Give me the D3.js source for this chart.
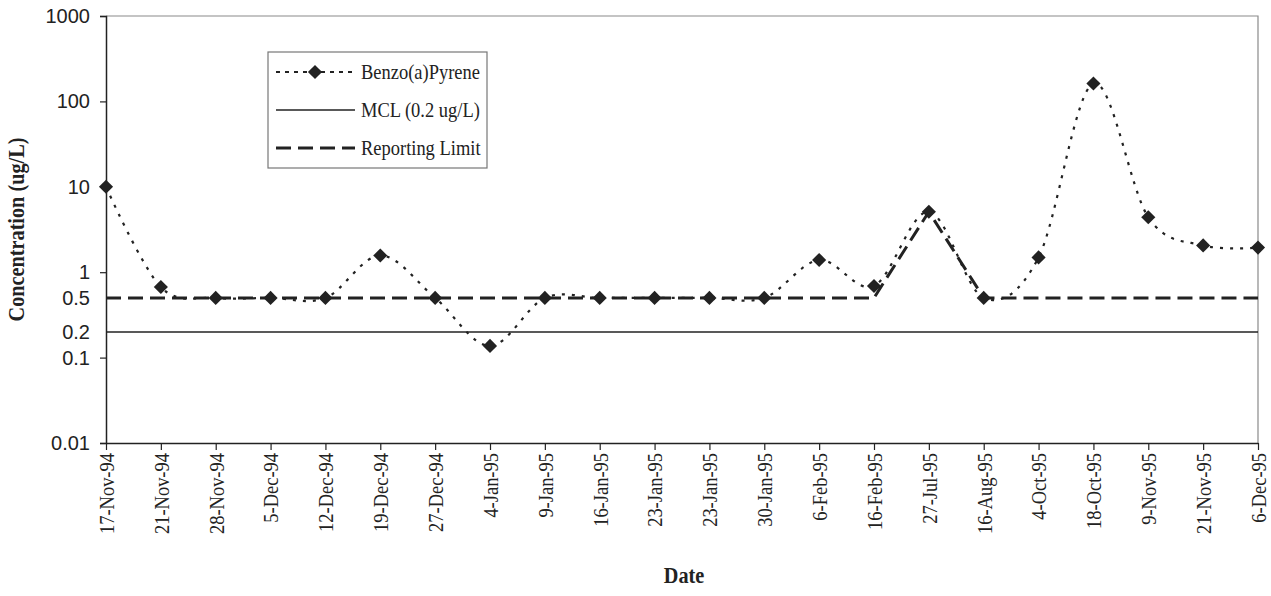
<!DOCTYPE html>
<html>
<head>
<meta charset="utf-8">
<script src="https://cdn.jsdelivr.net/npm/d3@7"></script>
<style>
  body { margin: 0; background: #fff; }
  svg { display: block; }
</style>
</head>
<body>
<div id="figure"></div>
<script>
// sample dates (category axis, 23-Jan-95 appears twice in the source)
var dates = ["17-Nov-94", "21-Nov-94", "28-Nov-94", "5-Dec-94", "12-Dec-94", "19-Dec-94",
  "27-Dec-94", "4-Jan-95", "9-Jan-95", "16-Jan-95", "23-Jan-95", "23-Jan-95", "30-Jan-95",
  "6-Feb-95", "16-Feb-95", "27-Jul-95", "16-Aug-95", "4-Oct-95", "18-Oct-95", "9-Nov-95",
  "21-Nov-95", "6-Dec-95"];

var benzo = [10, 0.67, 0.5, 0.5, 0.5, 1.57, 0.5, 0.137, 0.5, 0.5, 0.5, 0.5, 0.5,
  1.39, 0.69, 5.1, 0.5, 1.49, 162, 4.4, 2.06, 1.94];

var reportingLimit = [0.5, 0.5, 0.5, 0.5, 0.5, 0.5, 0.5, 0.5, 0.5, 0.5, 0.5, 0.5, 0.5,
  0.5, 0.5, 5.1, 0.5, 0.5, 0.5, 0.5, 0.5, 0.5];

var mcl = [0.2, 0.2, 0.2, 0.2, 0.2, 0.2, 0.2, 0.2, 0.2, 0.2, 0.2, 0.2, 0.2,
  0.2, 0.2, 0.2, 0.2, 0.2, 0.2, 0.2, 0.2, 0.2];

var yTicks = [1000, 100, 10, 1, 0.5, 0.2, 0.1, 0.01];

var width = 1271;
var height = 596;
var margin = { top: 16, bottom: 153, left: 106, right: 13 };

var serif = "'Liberation Serif', 'Times New Roman', serif";
var sans = "'Liberation Sans', Arial, sans-serif";
var ink = "#222";
// the source font is narrow and tall, so squeeze serif text along its run
var squeeze = 0.88;

var svg = d3.select("#figure")
  .append("svg")
  .attr("width", width)
  .attr("height", height)

var x = d3.scalePoint()
  .domain(d3.range(dates.length))
  .range([margin.left, width - margin.right]);

var y = d3.scaleLog()
  .domain([0.01, 1000])
  .range([height - margin.bottom, margin.top]);

// plot frame (top and right in grey)
svg.append("path")
  .attr("d", "M" + margin.left + "," + margin.top + "H" + (width - margin.right) + "V" + (height - margin.bottom))
  .attr("fill", "none")
  .attr("stroke", "#8a8a8a")
  .attr("stroke-width", 1.2)

// y axis
var yAxis = svg.append("g")
  .attr("transform", "translate(" + margin.left + ",0)")
  .call(d3.axisLeft(y).tickValues(yTicks).tickSize(6).tickPadding(10)
    .tickFormat(function (d) { return String(d) }))
yAxis.select(".domain").attr("stroke", ink).attr("stroke-width", 1.5)
yAxis.selectAll(".tick line")
  .attr("stroke", ink)
  .attr("stroke-width", 1.2)
  .attr("display", function (d) { return (d == 0.5 || d == 0.2) ? "none" : null })
yAxis.selectAll(".tick text")
  .attr("font-family", sans)
  .attr("font-size", "20px")
  .attr("fill", ink)

// x axis
var xAxis = svg.append("g")
  .attr("transform", "translate(0," + (height - margin.bottom) + ")")
  .call(d3.axisBottom(x).tickSize(7).tickSizeOuter(0)
    .tickFormat(function (i) { return dates[i] }))
xAxis.select(".domain").attr("stroke", ink).attr("stroke-width", 1.5)
xAxis.selectAll(".tick line").attr("stroke", ink).attr("stroke-width", 1.2)
xAxis.selectAll(".tick text")
  .attr("font-family", serif)
  .attr("font-size", "21px")
  .attr("fill", ink)
  .attr("text-anchor", "end")
  .attr("transform", "rotate(-90) scale(" + squeeze + ",1)")
  .attr("x", -10 / squeeze)
  .attr("y", 0)
  .attr("dy", "0.35em")

// axis titles
svg.append("text")
  .attr("transform", "translate(684,583) scale(" + squeeze + ",1)")
  .attr("text-anchor", "middle")
  .attr("font-family", serif)
  .attr("font-weight", "bold")
  .attr("font-size", "23px")
  .attr("fill", ink)
  .text("Date")

svg.append("text")
  .attr("transform", "translate(24," + (margin.top + height - margin.bottom) / 2 + ") rotate(-90) scale(" + squeeze + ",1)")
  .attr("text-anchor", "middle")
  .attr("font-family", serif)
  .attr("font-weight", "bold")
  .attr("font-size", "23px")
  .attr("fill", ink)
  .text("Concentration (ug/L)")

// lines
var idx = d3.range(dates.length);

var lineOf = function (values, curve) {
  return d3.line()
    .x(function (i) { return x(i) })
    .y(function (i) { return y(values[i]) })
    .curve(curve)(idx)
}

svg.append("path")
  .attr("d", lineOf(mcl, d3.curveLinear))
  .attr("fill", "none")
  .attr("stroke", ink)
  .attr("stroke-width", 1.5)

svg.append("path")
  .attr("d", lineOf(reportingLimit, d3.curveLinear))
  .attr("fill", "none")
  .attr("stroke", ink)
  .attr("stroke-width", 3)
  .attr("stroke-dasharray", "15,7")

svg.append("path")
  .attr("d", lineOf(benzo, d3.curveCardinal.tension(0)))
  .attr("fill", "none")
  .attr("stroke", ink)
  .attr("stroke-width", 2.2)
  .attr("stroke-dasharray", "3,7")

var diamond = d3.symbol().type(d3.symbolSquare).size(100);

svg.selectAll(".marker")
  .data(idx)
  .enter()
  .append("path")
  .attr("class", "marker")
  .attr("d", diamond)
  .attr("transform", function (i) { return "translate(" + x(i) + "," + y(benzo[i]) + ") rotate(45)" })
  .attr("fill", ink)

// legend
var legend = svg.append("g")
legend.append("rect")
  .attr("x", 268)
  .attr("y", 52)
  .attr("width", 219)
  .attr("height", 116)
  .attr("fill", "#fff")
  .attr("stroke", "#777")
  .attr("stroke-width", 1.2)

var legendItems = [
  { name: "Benzo(a)Pyrene", width: 2, dash: "4,5", marker: true },
  { name: "MCL (0.2 ug/L)", width: 1.5, dash: null, marker: false },
  { name: "Reporting Limit", width: 3, dash: "15,7", marker: false }
];

legendItems.forEach(function (d, k) {
  var cy = 72 + k * 38;
  legend.append("line")
    .attr("x1", 276)
    .attr("x2", 355)
    .attr("y1", cy)
    .attr("y2", cy)
    .attr("stroke", ink)
    .attr("stroke-width", d.width)
    .attr("stroke-dasharray", d.dash)
  if (d.marker) {
    legend.append("path")
      .attr("d", diamond)
      .attr("transform", "translate(315," + cy + ") rotate(45)")
      .attr("fill", ink)
  }
  legend.append("text")
    .attr("transform", "translate(361," + cy + ") scale(" + squeeze + ",1)")
    .attr("dy", "0.35em")
    .attr("font-family", serif)
    .attr("font-size", "21px")
    .attr("fill", ink)
    .text(d.name)
})
</script>
</body>
</html>
